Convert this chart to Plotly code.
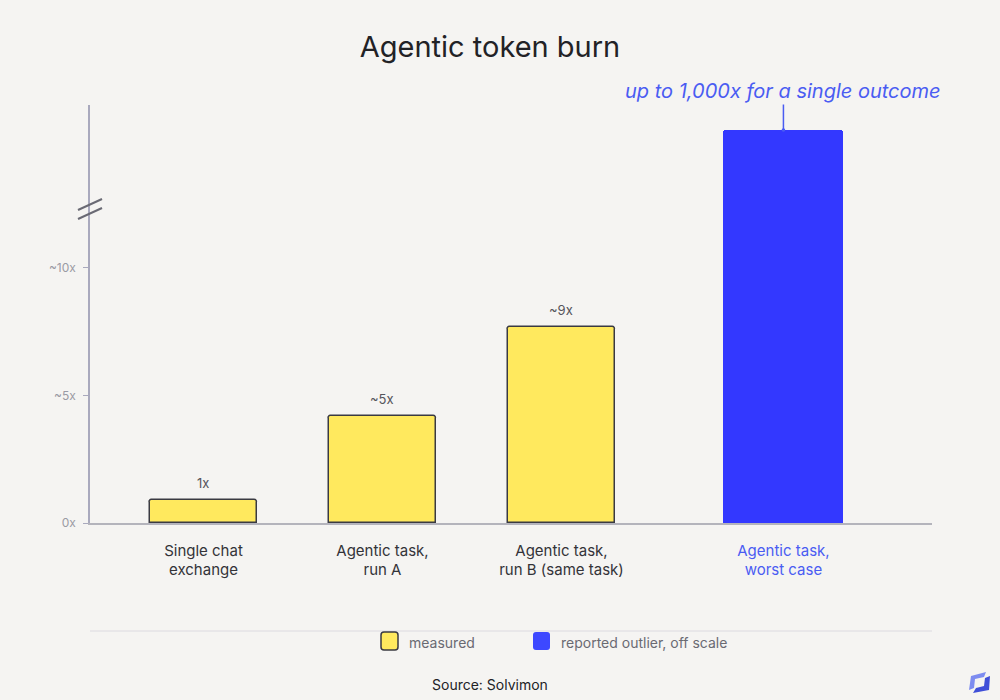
import plotly.graph_objects as go

# ---------------------------------------------------------------------------
# data
# ---------------------------------------------------------------------------
categories = ["Single chat<br>exchange", "Agentic task,<br>run A",
              "Agentic task,<br>run B (same task)", "Agentic task,<br>worst case"]
x_pos = [0, 1, 2, 3.24]
heights = [0.9, 4.2, 7.7, 15.4]          # drawn bar height (last one off scale)
value_labels = ["1x", "~5x", "~9x", ""]
measured_idx = [0, 1, 2]
outlier_idx = [3]
y_ticks = [0, 5, 10]
y_tick_text = ["0x", "~5x", "~10x"]
legend_names = ["measured", "reported outlier, off scale"]

BG = "#f5f4f2"
YELLOW = "#ffe95e"
BLUE = "#3338ff"
BLUE_TXT = "#4a5cf2"
INK = "#222226"
FONT = "Inter, Roboto, sans-serif"

# plot area in pixels: x 90..932, y 105..523
L, R, T, B = 90, 932, 105, 523


def px(x):
    return (x - L) / (R - L)


def py(y):
    return (B - y) / (B - T)


def rounded_square(x0, y0, x1, y1, r, fill, line_color, line_width):
    # rounded rectangle given in page pixels
    path = (f"M {px(x0 + r)},{py(y0)} L {px(x1 - r)},{py(y0)} "
            f"Q {px(x1)},{py(y0)} {px(x1)},{py(y0 + r)} L {px(x1)},{py(y1 - r)} "
            f"Q {px(x1)},{py(y1)} {px(x1 - r)},{py(y1)} L {px(x0 + r)},{py(y1)} "
            f"Q {px(x0)},{py(y1)} {px(x0)},{py(y1 - r)} L {px(x0)},{py(y0 + r)} "
            f"Q {px(x0)},{py(y0)} {px(x0 + r)},{py(y0)} Z")
    return dict(type="path", xref="paper", yref="paper", path=path, fillcolor=fill,
                line=dict(color=line_color, width=line_width))


fig = go.Figure()

fig.add_trace(go.Bar(
    x=[x_pos[i] for i in measured_idx], y=[heights[i] for i in measured_idx],
    width=0.6, name=legend_names[0],
    marker=dict(color=YELLOW, line=dict(color="#3a3a42", width=1.5), cornerradius=3),
    hoverinfo="skip",
))
fig.add_trace(go.Bar(
    x=[x_pos[i] for i in outlier_idx], y=[heights[i] for i in outlier_idx],
    width=0.67, name=legend_names[1],
    marker=dict(color=BLUE, line=dict(color=BLUE, width=0), cornerradius=3),
    hoverinfo="skip",
))

# value labels above the measured bars
for i in measured_idx:
    fig.add_annotation(x=x_pos[i], y=heights[i], text=value_labels[i],
                       showarrow=False, yanchor="bottom", yshift=7,
                       font=dict(size=13, color="#55555c"))

# callout for the outlier
fig.add_annotation(x=x_pos[3], y=heights[3], text="<i>up to 1,000x for a single outcome</i>",
                   showarrow=True, ax=0, ay=-39, arrowhead=6, arrowsize=0.6,
                   arrowwidth=1.5, arrowcolor=BLUE_TXT, standoff=0,
                   font=dict(size=20, color=BLUE_TXT))

tick_text = categories[:3] + [f"<span style='color:{BLUE_TXT}'>{categories[3]}</span>"]

shapes = [
    # axis break marks
    dict(type="line", xref="paper", yref="paper", x0=px(78), y0=py(210), x1=px(102), y1=py(199),
         line=dict(color="#6a6a74", width=2)),
    dict(type="line", xref="paper", yref="paper", x0=px(78), y0=py(219), x1=px(102), y1=py(208),
         line=dict(color="#6a6a74", width=2)),
    # separator above legend
    dict(type="line", xref="paper", yref="paper", x0=0, y0=py(631), x1=1, y1=py(631),
         line=dict(color="#dcdae0", width=1)),
    # legend swatches
    rounded_square(381, 632, 398, 650, 3, YELLOW, "#3a3a42", 1.5),
    rounded_square(533, 632, 550, 650, 3, "#3d48ff", "#3d48ff", 0),
    # logo
    dict(type="path", xref="paper", yref="paper",
         path=f"M {px(971)},{py(676)} L {px(986)},{py(672)} L {px(984)},{py(677)} "
              f"L {px(975)},{py(679)} L {px(974)},{py(688)} L {px(969)},{py(690)} Z",
         fillcolor="#7d8cf0", line=dict(width=0)),
    dict(type="path", xref="paper", yref="paper",
         path=f"M {px(990)},{py(676)} L {px(989)},{py(690)} L {px(973)},{py(693)} "
              f"L {px(976)},{py(688)} L {px(984)},{py(686)} L {px(985)},{py(678)} Z",
         fillcolor="#3f4fd8", line=dict(width=0)),
]

for xl, name in zip([407, 559], legend_names):
    fig.add_annotation(xref="paper", yref="paper", x=px(xl), y=py(642), text=name,
                       xanchor="left", yanchor="middle", showarrow=False,
                       font=dict(size=14, color="#6a6a72"))

fig.add_annotation(xref="paper", yref="paper", x=px(490), y=py(684), text="Source: Solvimon",
                   xanchor="center", yanchor="middle", showarrow=False,
                   font=dict(size=14, color=INK))

fig.update_layout(
    width=1000, height=700,
    paper_bgcolor=BG, plot_bgcolor=BG,
    font=dict(family=FONT, color=INK),
    margin=dict(l=L, r=1000 - R, t=T, b=700 - B),
    title=dict(text="Agentic token burn", x=px(490), xref="paper", xanchor="center",
               y=1 - 47 / 700, yanchor="middle", font=dict(size=29, color=INK)),
    showlegend=False,
    bargap=0,
    shapes=shapes,
    xaxis=dict(range=[-0.634, 4.07], tickvals=x_pos, ticktext=tick_text,
               showgrid=False, zeroline=False, showline=True, linecolor="#b4b4bc",
               linewidth=1.5, ticks="", ticklabelstandoff=13,
               tickfont=dict(size=15, color="#333338"), fixedrange=True),
    yaxis=dict(range=[0, 16.38], tickvals=y_ticks, ticktext=y_tick_text,
               showgrid=False, zeroline=False, showline=True, linecolor="#a9a9bd",
               linewidth=1.5, ticks="outside", ticklen=5, tickcolor="#a9a9bd",
               ticklabelstandoff=5,
               tickfont=dict(size=12, color="#9a9aa4"), fixedrange=True),
)

fig.write_html("out.html", config={"displayModeBar": False},
               post_script="document.body.style.margin='0';")
